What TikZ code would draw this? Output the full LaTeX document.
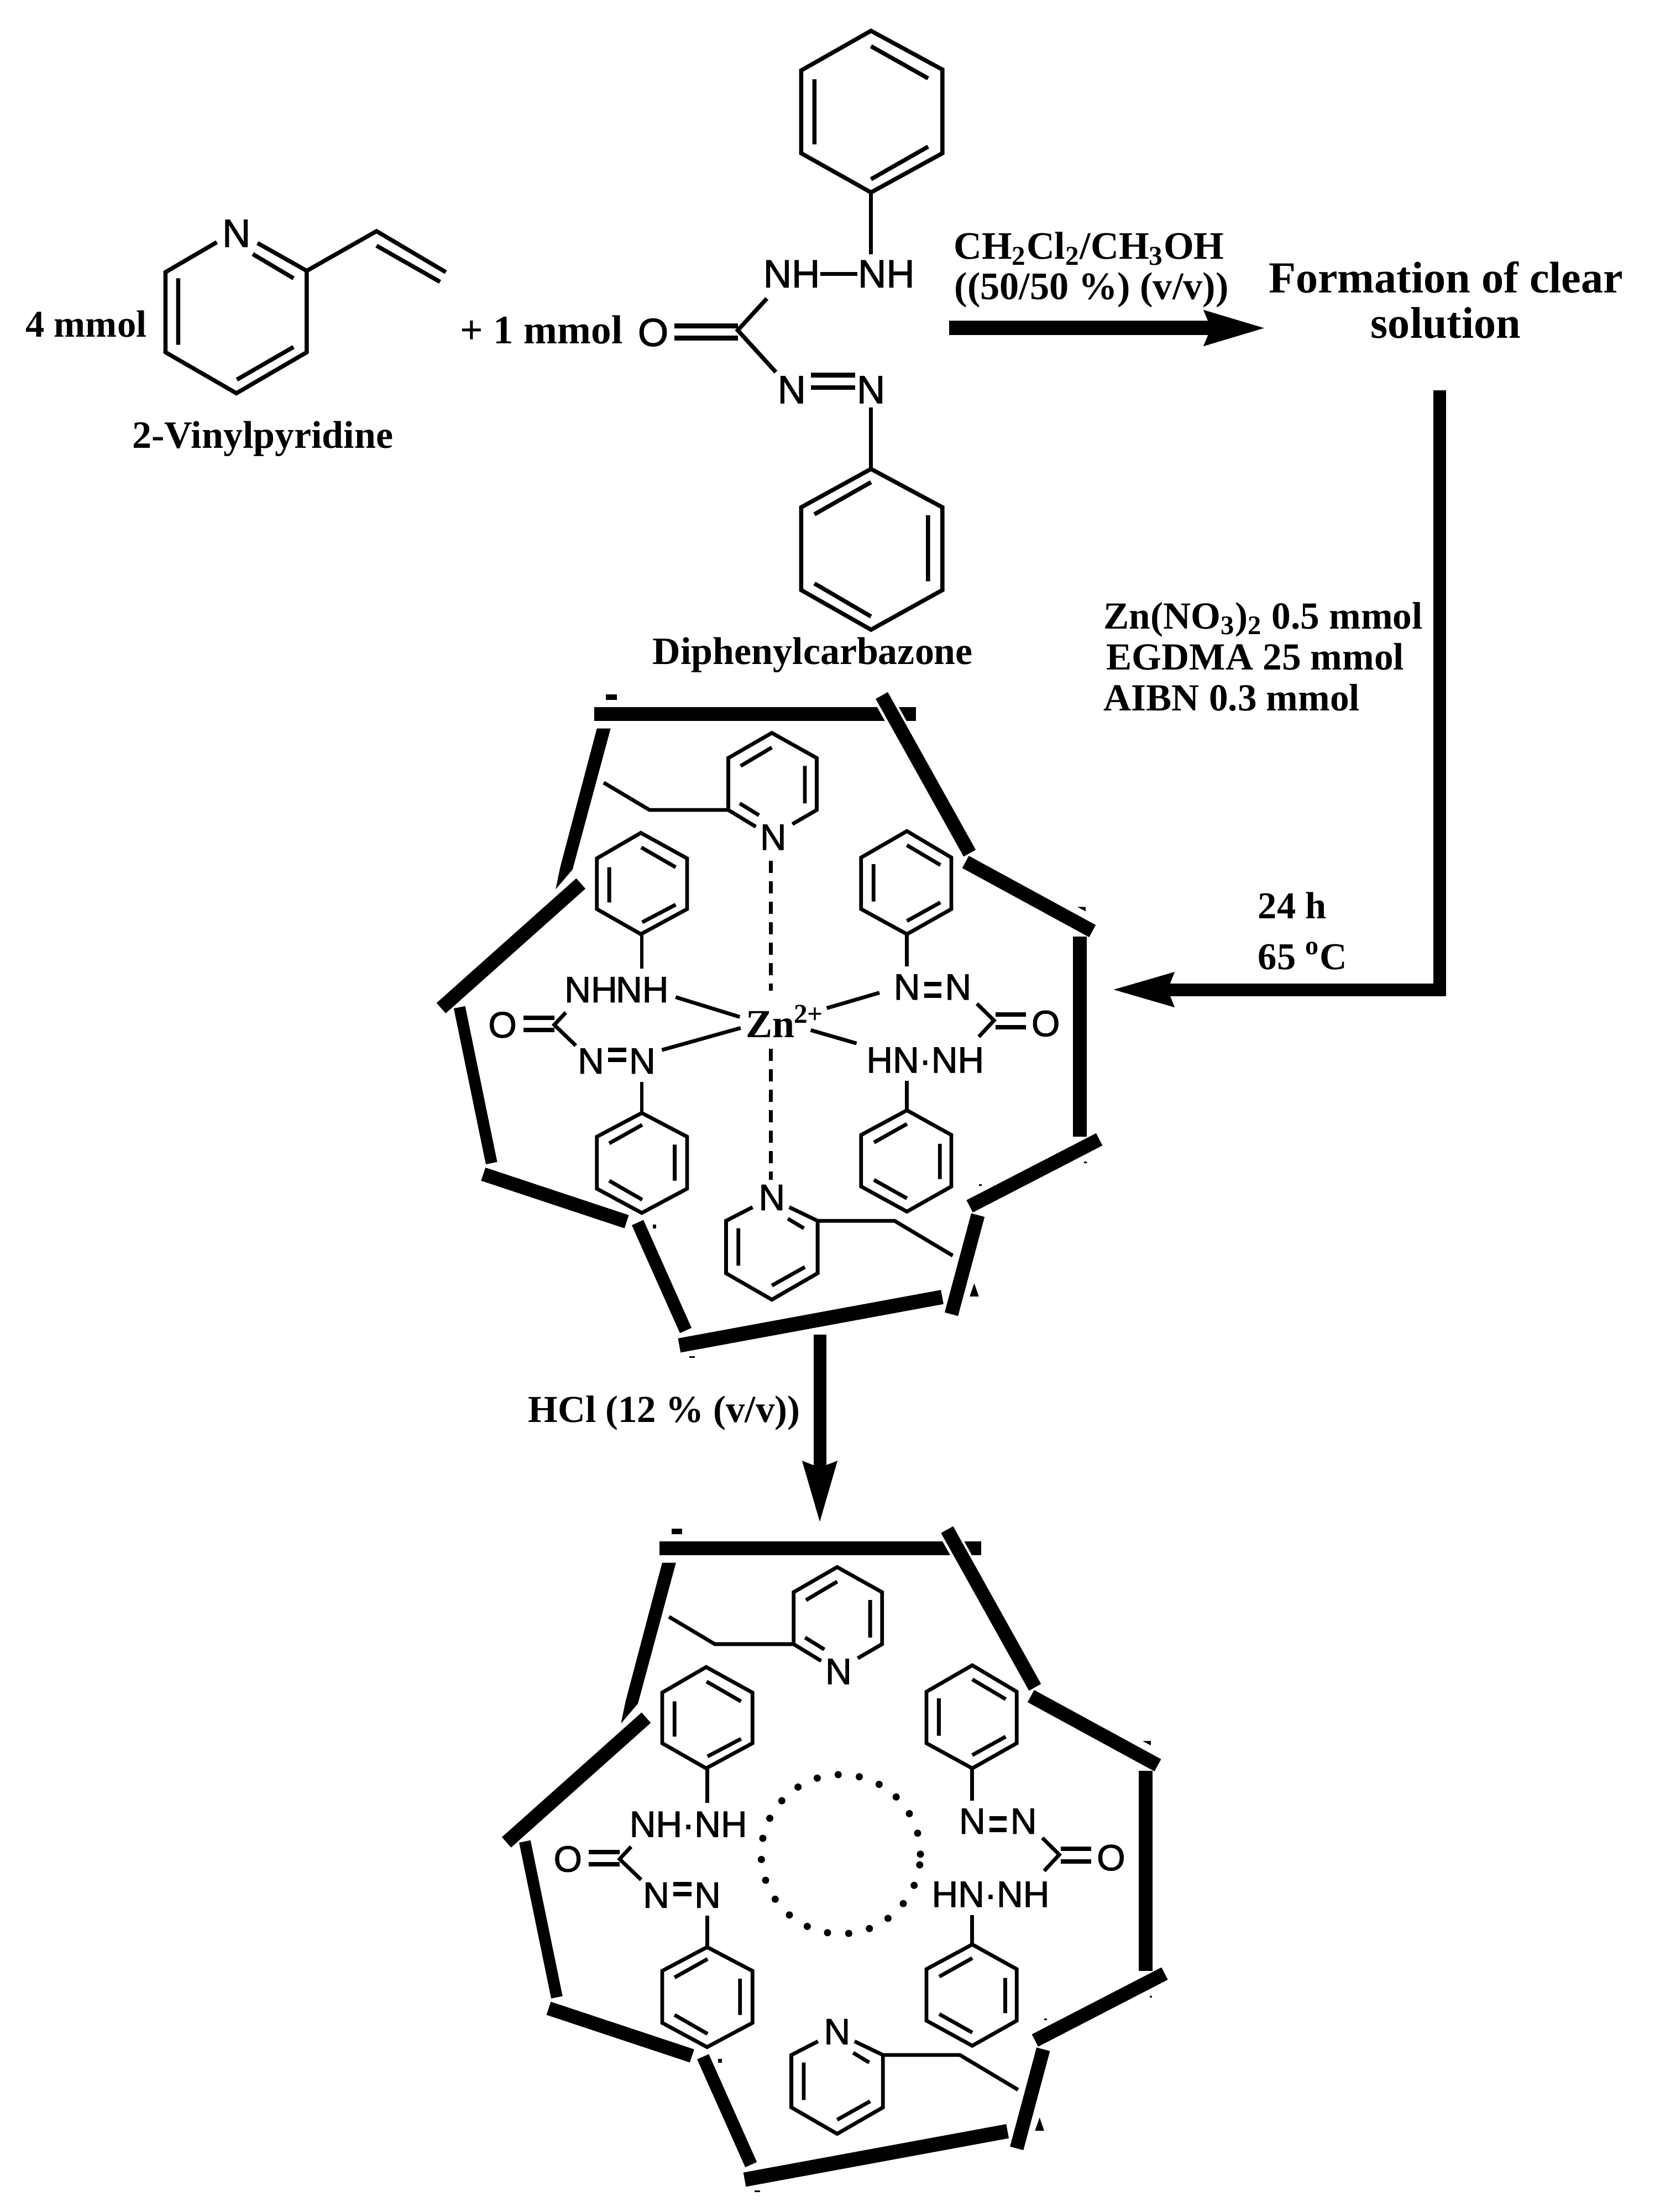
\documentclass[tikz,border=0pt]{standalone}
\usepackage{fontspec}
\usetikzlibrary{arrows.meta}
\setmainfont{Liberation Serif}
\newfontfamily\chemfont[FakeBold=1.6]{Liberation Sans}
\tikzset{
  bondtop/.style={line width=0.075cm,line cap=butt,line join=miter},
  bondmid/.style={line width=0.068cm,line cap=butt,line join=miter},
  dbltop/.style={line width=0.085cm,line cap=butt},
  dblmid/.style={line width=0.08cm,line cap=butt},
  atomtop/.style={inner sep=0pt,font=\chemfont\fontsize{20.2}{22}\selectfont},
  atommid/.style={inner sep=0pt,font=\chemfont\fontsize{18.8}{20}\selectfont},
  lab/.style={inner sep=0pt,anchor=base,font=\bfseries\fontsize{19.9}{22}\selectfont},
  labl/.style={inner sep=0pt,anchor=base west,font=\bfseries\fontsize{19.7}{22}\selectfont},
  labbig/.style={inner sep=0pt,anchor=base,font=\bfseries\fontsize{22.8}{25}\selectfont},
  frame/.style={line width=0.25cm,line cap=butt},
  halo/.style={line width=0.34cm,line cap=butt,white},
  bigarrow/.style={line width=0.26cm,line join=miter,-{Stealth[length=1.1cm,width=0.57cm,inset=0.08cm]}},
  topscale/.style={x=0.00957cm,y=-0.00797cm},
  midscale/.style={x=0.00829cm,y=-0.00797cm},
}
\newcommand{\cagebody}[1]{%
  % frame
  \draw[frame,line width=0.25cm] (392,52) -- (1095,52);
  \draw[halo] (1014,0) -- (1218,379);
  \draw[frame] (1020,10) -- (1212,368);
  \draw[frame] (1203,388) -- (1480,545);
  \draw[frame] (1453,558) -- (1453,1012);
  \draw[frame] (1495,1018) -- (1212,1170);
  \draw[frame] (1230,1190) -- (1172,1415);
  \draw[frame,line width=0.26cm] (1152,1376) -- (578,1486);
  \draw[frame,line width=0.23cm] (592,1452) -- (487,1207);
  \draw[frame] (463,1205) -- (150,1097);
  \draw[frame,line width=0.21cm] (168,1072) -- (98,718);
  \draw[frame] (58,720) -- (363,437);
  \fill (398,85) -- (428,85) -- (345,405) -- (308,450) -- (318,400) -- cycle;
  % small marks
  \fill (418,8) rectangle (442,20);
  \fill (1222,1345) -- (1232,1375) -- (1212,1375) -- cycle;
  \fill (1447,490) -- (1465,490) -- (1465,500) -- cycle;
  \fill (520,1212) rectangle (528,1220);
  \fill (600,1510) rectangle (612,1514);
  \fill (1232,1120) rectangle (1238,1124);
  \fill (1462,1068) rectangle (1468,1072);
  % upper pyridine
  \node[atommid] (#1npt) at (783,332) {N};
  \draw[bondmid] (825,302) -- (878,270) -- (878,152) -- (780,95) -- (685,152) -- (685,270) -- (745,308);
  \draw[bondmid] (710,255) -- (752,282) (852,170) -- (852,255) (712,170) -- (780,128);
  \draw[bondmid] (685,270) -- (513,270) -- (413,208);
  % lower pyridine
  \node[atommid] (#1npb) at (780,1150) {N};
  \draw[bondmid] (738,1172) -- (680,1203) -- (680,1322) -- (780,1382) -- (880,1322) -- (880,1203) -- (818,1172);
  \draw[bondmid] (815,1198) -- (850,1220) (707,1220) -- (707,1305) (780,1350) -- (852,1308);
  \draw[bondmid] (880,1203) -- (1048,1203) -- (1175,1282);
  % left upper phenyl
  \draw[bondmid] (494,322) -- (595,380) -- (595,495) -- (494,552) -- (398,495) -- (398,380) -- cycle;
  \draw[bondmid] (495,355) -- (570,400) (425,400) -- (425,480) (497,525) -- (570,485);
  \draw[bondmid] (496,552) -- (496,630);
  % left ligand core
  \node[atommid] (#1ol) at (192,758) {O};
  \draw[dblmid] (238,742) -- (305,742) (238,770) -- (305,770);
  \draw[bondmid] (330,730) -- (305,758) -- (352,805);
  \node[atommid] (#1nl1) at (385,840) {N};
  \node[atommid] (#1nl2) at (497,840) {N};
  \draw[dblmid] (422,815) -- (462,815) (422,838) -- (462,838);
  \draw[bondmid] (496,887) -- (496,958);
  % left lower phenyl
  \draw[bondmid] (496,958) -- (595,1012) -- (595,1130) -- (496,1185) -- (398,1130) -- (398,1012) -- cycle;
  \draw[bondmid] (425,1027) -- (497,985) (568,1030) -- (568,1112) (425,1112) -- (497,1155);
  % right upper phenyl
  \draw[bondmid] (1075,318) -- (1172,378) -- (1172,495) -- (1075,552) -- (975,495) -- (975,378) -- cycle;
  \draw[bondmid] (1075,350) -- (1148,395) (1002,393) -- (1002,478) (1075,522) -- (1148,480);
  \draw[bondmid] (1075,552) -- (1075,625);
  % right ligand core
  \node[atommid] (#1nr1) at (1075,672) {N};
  \node[atommid] (#1nr2) at (1187,672) {N};
  \draw[dblmid] (1113,665) -- (1150,665) (1113,692) -- (1150,692);
  \draw[bondmid] (1228,710) -- (1265,748) -- (1232,785);
  \draw[dblmid] (1268,735) -- (1335,735) (1268,763) -- (1335,763);
  \node[atommid] (#1or) at (1378,755) {O};
  \node[atommid] (#1hnnh) at (1115,838) {HN·NH};
  \draw[bondmid] (1075,885) -- (1075,952);
  % right lower phenyl
  \draw[bondmid] (1075,952) -- (1172,1008) -- (1172,1125) -- (1075,1182) -- (975,1125) -- (975,1008) -- cycle;
  \draw[bondmid] (1003,1025) -- (1075,983) (1147,1028) -- (1147,1108) (1003,1110) -- (1075,1152);
}
\begin{document}
\begin{tikzpicture}
\useasboundingbox (0,0) rectangle (30.02,-40.01);
\fill[white] (0,0) rectangle (30.02,-40.01);

% ---------- top row ----------
\begin{scope}[topscale]
  % 2-vinylpyridine
  \node[atomtop] (pyN) at (447,530) {N};
  \draw[bondtop] (410,550) -- (313,618) -- (313,800) -- (447,893) -- (580,800) -- (580,615) -- (487,552);
  \draw[bondtop] (337,632) -- (337,783) (448,862) -- (555,788) (478,577) -- (555,632);
  \draw[bondtop] (580,615) -- (712,525) -- (843,618) (712,558) -- (832,640);
  \node[lab,font=\bfseries\fontsize{19.5}{22}\selectfont] (mm4) at (163,765) {4 mmol};
  \node[lab] (vp) at (497,1018) {2-Vinylpyridine};
  \node[lab,font=\bfseries\fontsize{20.8}{22}\selectfont] (mm1) at (1024,780) {+ 1 mmol};
  % diphenylcarbazone
  \draw[bondtop] (1647,70) -- (1782,158) -- (1782,348) -- (1647,437) -- (1515,348) -- (1515,160) -- cycle;
  \draw[bondtop] (1647,105) -- (1755,178) (1647,407) -- (1755,333) (1540,180) -- (1540,328);
  \draw[bondtop] (1647,437) -- (1647,578);
  \node[atomtop] (nh1) at (1497,622) {NH};
  \node[atomtop] (nh2) at (1676,622) {NH};
  \draw[bondtop] (nh1) -- (nh2);
  \node[atomtop] (oo) at (1235,755) {O};
  \draw[dbltop] (1275,740) -- (1395,740) (1275,768) -- (1395,768);
  \draw[bondtop] (1450,678) -- (1395,750) -- (1467,845);
  \node[atomtop] (n1) at (1497,885) {N};
  \node[atomtop] (n2) at (1647,885) {N};
  \draw[dbltop] (1533,852) -- (1617,852) (1533,880) -- (1617,880);
  \draw[bondtop] (1647,925) -- (1647,1065);
  \draw[bondtop] (1647,1065) -- (1782,1152) -- (1782,1340) -- (1647,1430) -- (1515,1340) -- (1515,1152) -- cycle;
  \draw[bondtop] (1647,1095) -- (1540,1168) (1755,1170) -- (1755,1320) (1540,1325) -- (1647,1400);
  \node[lab] (dpc) at (1537,1508) {Diphenylcarbazone};
  % solvent label and arrow
  \node[lab,font=\bfseries\fontsize{20}{22}\selectfont] (s1) at (2059,588) {CH\textsubscript{2}Cl\textsubscript{2}/CH\textsubscript{3}OH};
  \node[lab,font=\bfseries\fontsize{20}{22}\selectfont] (s2) at (2064,680) {((50/50 \%) (v/v))};
  \coordinate (a1s) at (1795,745);
  \coordinate (a1e) at (2397,745);
  \draw[bigarrow] (a1s) -- (a1e);
  \node[labbig] (f1) at (2734,665) {Formation of clear};
  \node[labbig] (f2) at (2734,768) {solution};
\end{scope}

% ---------- right side reagents and elbow arrow ----------
\coordinate (a2s) at (26.04,-7.06);
\coordinate (a2c) at (26.04,-17.90);
\coordinate (a2e) at (20.10,-17.90);
\draw[bigarrow,line width=0.23cm] (a2s) -- (a2c) -- (a2e);
\node[labl] (r1) at (19.96,-11.37) {Zn(NO\textsubscript{3})\textsubscript{2} 0.5 mmol};
\node[labl] (r2) at (20.01,-12.11) {EGDMA 25 mmol};
\node[labl] (r3) at (19.96,-12.85) {AIBN 0.3 mmol};
\node[labl,font=\bfseries\fontsize{19.5}{22}\selectfont] (r4) at (22.75,-16.61) {24 h};
\node[labl,font=\bfseries\fontsize{19.5}{22}\selectfont] (r5) at (22.75,-17.53) {65 \textsuperscript{o}C};

% ---------- middle cage ----------
\begin{scope}[shift={(7.5cm,-12.5cm)},midscale]
  \cagebody{a}
  \node[atommid] (anh1) at (385,678) {NH};
  \node[atommid] (anh2) at (497,678) {NH};
  \node[inner sep=0pt,font=\bfseries\fontsize{20.5}{22}\selectfont] (zn) at (777,757) {Zn};
  \node[inner sep=0pt,font=\bfseries\fontsize{14}{16}\selectfont] (zc) at (860,733) {2+};
  \draw[bondmid] (570,695) -- (710,740) (540,815) -- (712,765) (900,720) -- (1015,685) (865,770) -- (965,800);
  \draw[bondmid,dash pattern=on 0.22cm off 0.15cm] (778,385) -- (778,680);
  \draw[bondmid,dash pattern=on 0.22cm off 0.15cm] (778,812) -- (778,1110);
\end{scope}

% ---------- HCl arrow ----------
\coordinate (a3s) at (14.83,-24.14);
\coordinate (a3e) at (14.83,-27.57);
\draw[bigarrow,line width=0.23cm] (a3s) -- (a3e);
\node[labl,font=\bfseries\fontsize{19.6}{22}\selectfont] (hcl) at (9.55,-25.72) {HCl (12 \% (v/v))};

% ---------- bottom cage ----------
\begin{scope}[shift={(8.682cm,-27.588cm)},midscale]
  \cagebody{b}
  \node[atommid] (bnh) at (455,679) {NH·NH};
  \node[draw,circle,minimum size=2.88cm,inner sep=0pt,line width=0.13cm,line cap=round,dash pattern=on 0pt off 0.385cm] (hole) at (788,747) {};
\end{scope}
\end{tikzpicture}
\end{document}
